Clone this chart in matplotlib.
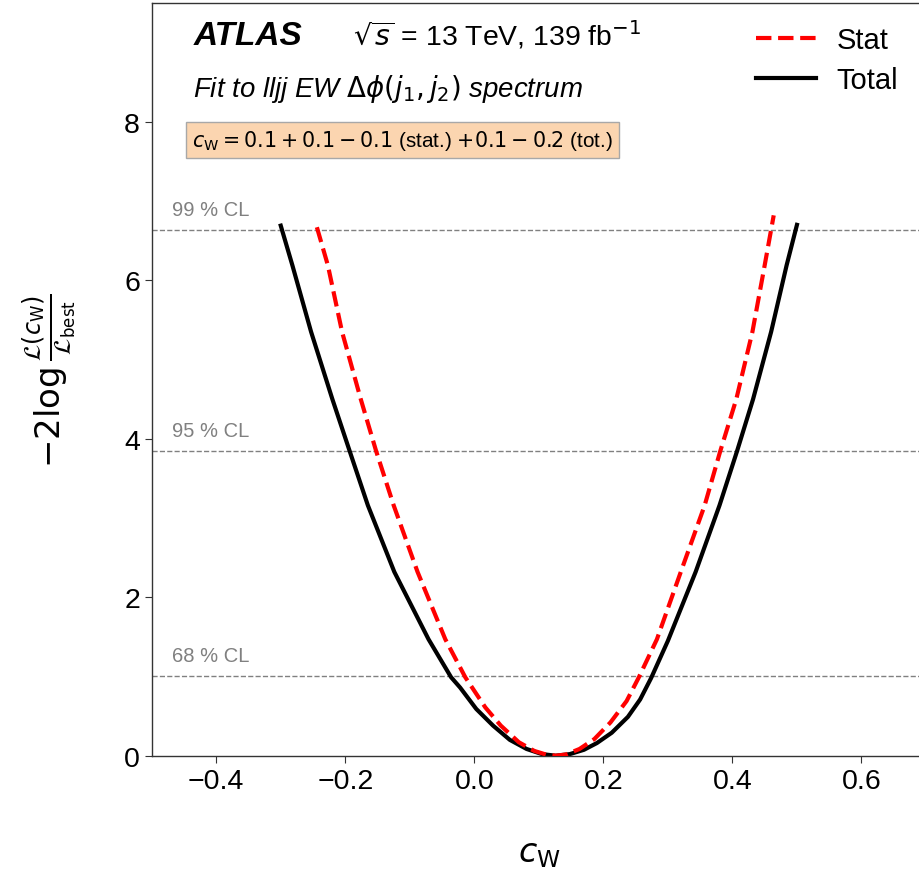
#!/usr/bin/env python3
# Likelihood scan for c_W, stat-only vs total uncertainty

import matplotlib
matplotlib.use("Agg")
import matplotlib.pyplot as plt

plt.rcParams['font.family'] = ['Liberation Sans', 'DejaVu Sans']
plt.rcParams['mathtext.fontset'] = 'dejavusans'

# scan points
total_cw = [-0.300, -0.282, -0.253, -0.220, -0.193, -0.165, -0.124, -0.071,
            -0.036, -0.022, 0.003, 0.029, 0.055, 0.081, 0.105, 0.126,
            0.148, 0.170, 0.190, 0.213, 0.238, 0.257, 0.274, 0.300,
            0.343, 0.380, 0.407, 0.432, 0.460, 0.484, 0.500]
total_nll = [6.69, 6.19, 5.35, 4.50, 3.84, 3.16, 2.32, 1.47,
             0.99, 0.86, 0.59, 0.38, 0.20, 0.085, 0.02, 0.0,
             0.02, 0.075, 0.16, 0.29, 0.49, 0.71, 0.98, 1.45,
             2.32, 3.16, 3.84, 4.50, 5.35, 6.19, 6.70]

stat_cw = [-0.244, -0.227, -0.205, -0.176, -0.152, -0.125, -0.088, -0.045,
           -0.014, 0.017, 0.041, 0.069, 0.093, 0.111, 0.126, 0.142,
           0.163, 0.186, 0.211, 0.236, 0.255, 0.283, 0.320, 0.357,
           0.381, 0.406, 0.431, 0.450, 0.464]
stat_nll = [6.67, 6.19, 5.35, 4.50, 3.84, 3.16, 2.32, 1.47,
            0.99, 0.61, 0.38, 0.17, 0.06, 0.015, 0.0, 0.015,
            0.085, 0.21, 0.42, 0.69, 0.99, 1.47, 2.32, 3.16,
            3.84, 4.50, 5.35, 6.19, 6.82]

cl_levels = [1.0, 3.84, 6.63]
cl_labels = ["68 % CL", "95 % CL", "99 % CL"]

W, H = 920, 870
fig = plt.figure(figsize=(W / 100, H / 100), dpi=100)
ax = fig.add_axes([151.7 / W, 113.3 / H, 774.3 / W, 752.7 / H])

for lvl, lab in zip(cl_levels, cl_labels):
    ax.axhline(lvl, color='#808080', lw=1, ls='--', zorder=1)
    ax.text(-0.468, lvl + 0.14, lab, color='#808080', fontsize=14.5,
            va='bottom', ha='left')

ax.plot(stat_cw, stat_nll, color='red', ls='--', lw=3, label='Stat', zorder=3)
ax.plot(total_cw, total_nll, color='black', lw=3, label='Total', zorder=2,
        solid_joinstyle='round')

ax.set_xlim(-0.5, 0.7)
ax.set_ylim(0, 9.5)
ax.set_xticks([-0.4, -0.2, 0.0, 0.2, 0.4, 0.6])
ax.set_yticks([0, 2, 4, 6, 8])
ax.tick_params(labelsize=20.5, length=5, width=0.8, direction='out',
               colors='#333333', labelcolor='black')
for sp in ax.spines.values():
    sp.set_linewidth(1)
    sp.set_color('#333333')

ax.set_xlabel(r'$c_\mathrm{W}$', fontsize=24)
ax.xaxis.set_label_coords(0.5, -0.109)
ax.set_ylabel(r'$-2\log\frac{\mathcal{L}(c_\mathrm{W})}{\mathcal{L}_\mathrm{best}}$',
              fontsize=24.5)
ax.yaxis.set_label_coords(-0.094, 0.5)

ax.text(0.0537, 0.9455, 'ATLAS', transform=ax.transAxes, fontsize=24,
        fontweight='bold', style='italic', va='baseline')
ax.text(0.2605, 0.9446, r'$\sqrt{s}$ = 13 TeV, 139 fb$^{-1}$',
        transform=ax.transAxes, fontsize=20.4, va='baseline')
ax.text(0.0537, 0.877, r'Fit to lljj EW $\Delta\phi(j_1, j_2)$ spectrum',
        transform=ax.transAxes, fontsize=19.9, style='italic', va='baseline')
ax.text(0.0517, 0.810,
        r'$c_\mathrm{W} = 0.1 + 0.1 - 0.1$ (stat.) $+0.1 - 0.2$ (tot.)',
        transform=ax.transAxes, fontsize=14.9, va='baseline',
        bbox=dict(boxstyle='square,pad=0.3', facecolor='#fbd5b0',
                  edgecolor='#a8a8a8', lw=1))

ax.legend(loc='upper right', bbox_to_anchor=(0.964, 0.969), frameon=False,
          fontsize=21, borderaxespad=0, borderpad=0, handlelength=2.06,
          labelspacing=0.39, handletextpad=0.69)

fig.savefig('out.png', dpi=100)
